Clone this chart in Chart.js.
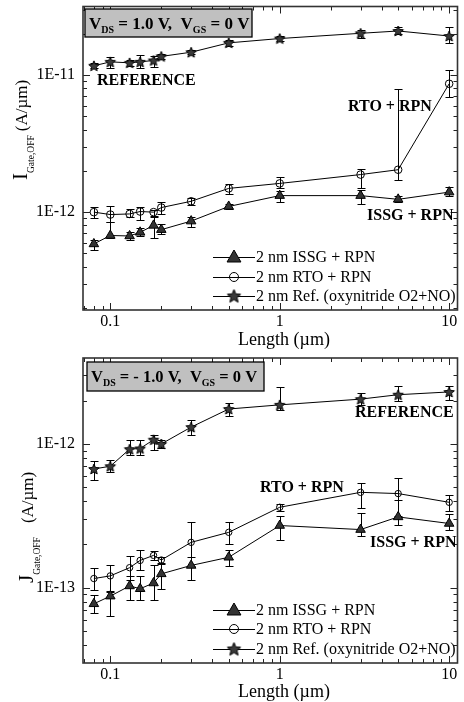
<!DOCTYPE html>
<html><head><meta charset="utf-8">
<script src="https://cdn.jsdelivr.net/npm/chart.js@4/dist/chart.umd.min.js"></script>
<style>
html,body{margin:0;padding:0;background:#fff;}
#wrap{position:relative;width:464px;height:702px;overflow:hidden;}
canvas{position:absolute;left:0;}
</style></head><body>
<div id="wrap">
<canvas id="topPanel" width="464" height="350" style="top:0"></canvas>
<canvas id="bottomPanel" width="464" height="352" style="top:350px"></canvas>
</div>
<script>
// Gate length (µm)
const lengths = [0.08, 0.1, 0.13, 0.15, 0.18, 0.2, 0.3, 0.5, 1, 3, 5, 10];

// I_Gate,OFF (A/µm) at V_DS = 1.0 V, V_GS = 0 V
const issgTop     = [5.86e-13, 6.75e-13, 6.7e-13, 7.12e-13, 8.0e-13, 7.45e-13, 8.6e-13, 1.1e-12, 1.32e-12, 1.32e-12, 1.24e-12, 1.40e-12];
const issgTopLow  = [5.33e-13, 6.5e-13, 6.23e-13, 6.67e-13, 6.52e-13, 6.97e-13, 7.78e-13, 1.05e-12, 1.18e-12, 1.14e-12, 1.18e-12, 1.32e-12];
const issgTopHigh = [6.3e-13, 8.5e-13, 7.16e-13, 7.61e-13, 9.2e-13, 8.24e-13, 9.2e-13, 1.15e-12, 1.42e-12, 1.44e-12, 1.32e-12, 1.52e-12];

const rtoTop     = [1.0e-12, 0.96e-12, 0.97e-12, 1.01e-12, 1.0e-12, 1.08e-12, 1.2e-12, 1.49e-12, 1.62e-12, 1.88e-12, 2.04e-12, 8.65e-12];
const rtoTopLow  = [0.90e-12, 0.85e-12, 0.915e-12, 0.87e-12, 0.935e-12, 0.97e-12, 1.12e-12, 1.36e-12, 1.50e-12, 1.50e-12, 1.73e-12, 6.96e-12];
const rtoTopHigh = [1.09e-12, 1.10e-12, 1.046e-12, 1.09e-12, 1.04e-12, 1.18e-12, 1.27e-12, 1.61e-12, 1.80e-12, 2.07e-12, 7.87e-12, 1.09e-11];

const refTop     = [1.17e-11, 1.25e-11, 1.23e-11, 1.25e-11, 1.28e-11, 1.37e-11, 1.47e-11, 1.72e-11, 1.85e-11, 2.02e-11, 2.1e-11, 1.93e-11];
const refTopLow  = [1.12e-11, 1.12e-11, 1.16e-11, 1.13e-11, 1.14e-11, 1.32e-11, 1.42e-11, 1.63e-11, 1.78e-11, 1.87e-11, 1.98e-11, 1.72e-11];
const refTopHigh = [1.23e-11, 1.35e-11, 1.30e-11, 1.41e-11, 1.37e-11, 1.42e-11, 1.53e-11, 1.80e-11, 1.93e-11, 2.15e-11, 2.25e-11, 2.23e-11];

// J_Gate,OFF (A/µm) at V_DS = -1.0 V, V_GS = 0 V
const issgBot     = [7.74e-14, 8.75e-14, 1.03e-13, 9.85e-14, 1.08e-13, 1.25e-13, 1.43e-13, 1.63e-13, 2.71e-13, 2.54e-13, 3.11e-13, 2.8e-13];
const issgBotLow  = [6.63e-14, 6.35e-14, 8.2e-14, 8.2e-14, 8.2e-14, 9.85e-14, 1.14e-13, 1.41e-13, 2.16e-13, 2.28e-13, 2.75e-13, 2.51e-13];
const issgBotHigh = [8.98e-14, 9.47e-14, 1.2e-13, 1.2e-13, 1.43e-13, 1.49e-13, 1.64e-13, 1.82e-13, 3.14e-13, 3.32e-13, 4.1e-13, 3.28e-13];

const rtoBot     = [1.16e-13, 1.21e-13, 1.38e-13, 1.55e-13, 1.68e-13, 1.56e-13, 2.07e-13, 2.43e-13, 3.63e-13, 4.61e-13, 4.52e-13, 3.93e-13];
const rtoBotLow  = [9.7e-14, 9.4e-14, 1.14e-13, 1.34e-13, 1.57e-13, 1.47e-13, 1.41e-13, 2.03e-13, 3.42e-13, 3.6e-13, 3.14e-13, 3.4e-13];
const rtoBotHigh = [1.37e-13, 1.45e-13, 1.66e-13, 1.82e-13, 1.815e-13, 1.64e-13, 2.86e-13, 2.86e-13, 3.85e-13, 5.36e-13, 5.8e-13, 4.45e-13];

const refBot     = [6.7e-13, 7.0e-13, 9.2e-13, 9.3e-13, 1.07e-12, 1.0e-12, 1.31e-12, 1.75e-12, 1.87e-12, 2.05e-12, 2.2e-12, 2.3e-12];
const refBotLow  = [5.65e-13, 6.4e-13, 8.43e-13, 8.43e-13, 9.13e-13, 9.38e-13, 1.16e-12, 1.56e-12, 1.73e-12, 1.88e-12, 1.98e-12, 2.03e-12];
const refBotHigh = [7.57e-13, 7.7e-13, 1.06e-12, 1.06e-12, 1.16e-12, 1.07e-12, 1.475e-12, 1.93e-12, 2.47e-12, 2.26e-12, 2.51e-12, 2.51e-12];

// Axis tick labels
const xTickValues = [0.1, 1, 10];
const xTickLabels = ['0.1', '1', '10'];
const yTopTickValues = [1e-12, 1e-11];
const yTopTickLabels = ['1E-12', '1E-11'];
const yBotTickValues = [1e-13, 1e-12];
const yBotTickLabels = ['1E-13', '1E-12'];

const seriesNames = ['2 nm ISSG + RPN', '2 nm RTO + RPN', '2 nm Ref. (oxynitride O2+NO)'];

const SERIF = "'Liberation Serif', 'DejaVu Serif', serif";

function makeStar(r, fill) {
  const size = Math.ceil(r * 2 + 3);
  const c = document.createElement('canvas');
  c.width = c.height = size;
  const g = c.getContext('2d');
  const cx = size / 2, cy = size / 2 + 0.5, ri = r * 0.45;
  g.beginPath();
  for (let i = 0; i < 10; i++) {
    const a = -Math.PI / 2 + i * Math.PI / 5;
    const rr = i % 2 ? ri : r;
    g.lineTo(cx + rr * Math.cos(a), cy + rr * Math.sin(a));
  }
  g.closePath();
  g.fillStyle = fill; g.fill();
  g.lineWidth = 1; g.strokeStyle = '#000'; g.stroke();
  return c;
}
const starSmall = makeStar(5.5, '#3a3a3a');
const starLegend = makeStar(7, '#3a3a3a');

function points(vals, lo, hi) {
  return lengths.map((x, i) => ({ x, y: vals[i], lo: lo[i], hi: hi[i] }));
}

const errorBars = {
  id: 'errorBars',
  beforeDatasetsDraw(chart) {
    const { ctx, scales: { x, y } } = chart;
    ctx.save();
    ctx.strokeStyle = '#000';
    ctx.lineWidth = 1;
    chart.data.datasets.forEach(ds => {
      ds.data.forEach(p => {
        const px = Math.round(x.getPixelForValue(p.x)) + 0.5;
        const y1 = Math.round(y.getPixelForValue(p.lo)) + 0.5;
        const y2 = Math.round(y.getPixelForValue(p.hi)) + 0.5;
        ctx.beginPath();
        ctx.moveTo(px, y1); ctx.lineTo(px, y2);
        ctx.moveTo(px - 4, y1); ctx.lineTo(px + 4, y1);
        ctx.moveTo(px - 4, y2); ctx.lineTo(px + 4, y2);
        ctx.stroke();
      });
    });
    ctx.restore();
  }
};

// Frame and inward log ticks on all four sides
const frame = {
  id: 'frame',
  afterDraw(chart) {
    const { ctx, chartArea: a, scales: { x, y } } = chart;
    ctx.save();
    ctx.strokeStyle = '#222';
    ctx.lineWidth = 1;
    const logTicks = (scale) => {
      const out = [];
      const e0 = Math.floor(Math.log10(scale.min)), e1 = Math.ceil(Math.log10(scale.max));
      for (let e = e0; e <= e1; e++) {
        for (let m = 1; m <= 9; m++) {
          const v = m * Math.pow(10, e);
          if (v > scale.min && v < scale.max) out.push({ v, major: m === 1 });
        }
      }
      return out;
    };
    ctx.beginPath();
    logTicks(x).forEach(t => {
      const px = Math.round(x.getPixelForValue(t.v)) + 0.5;
      const len = t.major ? 7 : 4;
      ctx.moveTo(px, a.bottom); ctx.lineTo(px, a.bottom - len);
      ctx.moveTo(px, a.top); ctx.lineTo(px, a.top + len);
    });
    logTicks(y).forEach(t => {
      const py = Math.round(y.getPixelForValue(t.v)) + 0.5;
      const len = t.major ? 7 : 4;
      ctx.moveTo(a.left, py); ctx.lineTo(a.left + len, py);
      ctx.moveTo(a.right, py); ctx.lineTo(a.right - len, py);
    });
    ctx.stroke();
    ctx.lineWidth = 1.6;
    ctx.strokeStyle = '#333';
    ctx.strokeRect(a.left, a.top, a.right - a.left, a.bottom - a.top);
    ctx.restore();
  }
};

// Text overlays: header box, labels, legend, axis titles
function makeDecor(opts) {
  return {
    id: 'decor',
    afterDraw(chart) {
      const ctx = chart.ctx;
      ctx.save();
      // header box
      const b = opts.box;
      ctx.fillStyle = '#c0c0c0';
      ctx.fillRect(b.x, b.y, b.w, b.h);
      ctx.lineWidth = 1.3;
      ctx.strokeStyle = '#000';
      ctx.strokeRect(b.x, b.y, b.w, b.h);
      ctx.fillStyle = '#000';
      ctx.textBaseline = 'alphabetic';
      ctx.textAlign = 'left';
      let cx = b.x + 4;
      const base = b.y + 20;
      b.parts.forEach(p => {
        ctx.font = p.sub ? "bold 10px " + SERIF : "bold " + b.size + "px " + SERIF;
        ctx.fillText(p.t, cx, p.sub ? base + 4 : base);
        cx += ctx.measureText(p.t).width;
      });
      // series labels
      ctx.font = "bold 16px " + SERIF;
      ctx.textBaseline = 'middle';
      opts.labels.forEach(l => ctx.fillText(l.t, l.x, l.y));
      // legend
      ctx.font = "16px " + SERIF;
      const styles = [
        { pointStyle: 'triangle', radius: 8, rotation: 0, borderWidth: 1, fill: '#333' },
        { pointStyle: 'circle', radius: 4.5, rotation: 0, borderWidth: 1, fill: 'rgba(0,0,0,0)' },
        { pointStyle: starLegend, radius: 7, rotation: 0, borderWidth: 1, fill: '#3a3a3a' }
      ];
      seriesNames.forEach((name, i) => {
        const yy = opts.legendY[i];
        ctx.strokeStyle = '#000'; ctx.lineWidth = 1;
        ctx.beginPath(); ctx.moveTo(213, yy + 0.5); ctx.lineTo(255, yy + 0.5); ctx.stroke();
        ctx.fillStyle = styles[i].fill;
        Chart.helpers.drawPoint(ctx, styles[i], 234, yy + (i === 0 ? 1 : 0));
        ctx.fillStyle = '#000';
        ctx.fillText(name, 256, yy + 1);
      });
      // x title
      ctx.font = "18px " + SERIF;
      ctx.textAlign = 'center';
      ctx.textBaseline = 'alphabetic';
      ctx.fillText('Length (\u00b5m)', 284, opts.xTitleY);
      // y title (rotated, with subscript)
      ctx.translate(opts.yTitle.x, opts.yTitle.bottom);
      ctx.rotate(-Math.PI / 2);
      ctx.textAlign = 'left';
      let u = 0;
      ctx.font = "21px " + SERIF;
      ctx.fillText(opts.yTitle.letter, u, 0);
      u += ctx.measureText(opts.yTitle.letter).width;
      ctx.font = "9.5px " + SERIF;
      ctx.fillText('Gate,OFF', u, 7);
      u += ctx.measureText('Gate,OFF').width + opts.yTitle.gap;
      ctx.font = "17px " + SERIF;
      ctx.fillText('(A/\u00b5m)', u, 0);
      ctx.restore();
    }
  };
}

function makePanel(canvas, cfg) {
  const H = canvas.height;
  return new Chart(canvas, {
    type: 'line',
    data: {
      datasets: [
        {
          label: seriesNames[0], data: points(cfg.issg, cfg.issgLow, cfg.issgHigh),
          borderColor: '#000', borderWidth: 1, pointStyle: 'triangle', pointRadius: 5.5,
          pointBackgroundColor: '#333', pointBorderColor: '#000', pointBorderWidth: 1
        },
        {
          label: seriesNames[1], data: points(cfg.rto, cfg.rtoLow, cfg.rtoHigh),
          borderColor: '#000', borderWidth: 1, pointStyle: 'circle', pointRadius: cfg.circleR,
          pointBackgroundColor: 'rgba(0,0,0,0)', pointBorderColor: '#000', pointBorderWidth: 1
        },
        {
          label: seriesNames[2], data: points(cfg.ref, cfg.refLow, cfg.refHigh),
          borderColor: '#000', borderWidth: 1, pointStyle: starSmall, pointRadius: 5.5,
          pointBackgroundColor: '#3a3a3a', pointBorderColor: '#000', pointBorderWidth: 1
        }
      ]
    },
    options: {
      responsive: false,
      animation: false,
      events: [],
      layout: { padding: { left: 0, right: 6, top: cfg.padTop, bottom: 0 } },
      plugins: { legend: { display: false }, tooltip: { enabled: false } },
      scales: {
        x: {
          type: 'logarithmic', min: 0.069, max: 11.2,
          grid: { display: false, drawTicks: false }, border: { display: false },
          ticks: {
            color: '#000', font: { family: SERIF, size: 16 }, padding: 2, maxRotation: 0, autoSkip: false,
            callback: (v) => { const i = xTickValues.indexOf(v); return i >= 0 ? xTickLabels[i] : ''; }
          },
          afterBuildTicks: s => { s.ticks = xTickValues.map(v => ({ value: v })); },
          afterFit: s => { s.height = H - cfg.plotBottom; s.paddingLeft = 0; s.paddingRight = 0; }
        },
        y: {
          type: 'logarithmic', min: cfg.yMin, max: cfg.yMax,
          grid: { display: false, drawTicks: false }, border: { display: false },
          ticks: {
            color: '#000', font: { family: SERIF, size: 16 }, padding: 8, autoSkip: false,
            callback: (v) => { const i = cfg.yTicks.findIndex(t => Math.abs(t - v) / t < 1e-6); return i >= 0 ? cfg.yLabels[i] : ''; }
          },
          afterBuildTicks: s => { s.ticks = cfg.yTicks.map(v => ({ value: v })); },
          afterFit: s => { s.width = 83; s.paddingTop = 0; s.paddingBottom = 0; }
        }
      }
    },
    plugins: [errorBars, frame, makeDecor(cfg.decor)]
  });
}

makePanel(document.getElementById('topPanel'), {
  issg: issgTop, issgLow: issgTopLow, issgHigh: issgTopHigh,
  rto: rtoTop, rtoLow: rtoTopLow, rtoHigh: rtoTopHigh,
  ref: refTop, refLow: refTopLow, refHigh: refTopHigh,
  yMin: 1.93e-13, yMax: 3.17e-11, yTicks: yTopTickValues, yLabels: yTopTickLabels,
  padTop: 5, plotBottom: 310, circleR: 3.8,
  decor: {
    box: { x: 85, y: 9, w: 167, h: 28, size: 17, parts: [
      { t: 'V' }, { t: 'DS', sub: true }, { t: ' = 1.0 V,  V' }, { t: 'GS', sub: true }, { t: ' = 0 V' }] },
    labels: [
      { t: 'REFERENCE', x: 97, y: 81 },
      { t: 'RTO + RPN', x: 348, y: 107 },
      { t: 'ISSG + RPN', x: 367, y: 216 }
    ],
    legendY: [257, 277, 296],
    xTitleY: 345,
    yTitle: { x: 27, bottom: 180, letter: 'I', gap: 4 }
  }
});

makePanel(document.getElementById('bottomPanel'), {
  issg: issgBot, issgLow: issgBotLow, issgHigh: issgBotHigh,
  rto: rtoBot, rtoLow: rtoBotLow, rtoHigh: rtoBotHigh,
  ref: refBot, refLow: refBotLow, refHigh: refBotHigh,
  yMin: 3.0e-14, yMax: 3.96e-12, yTicks: yBotTickValues, yLabels: yBotTickLabels,
  padTop: 8, plotBottom: 313, circleR: 3.2,
  decor: {
    box: { x: 87, y: 12, w: 177, h: 29, size: 16.5, parts: [
      { t: 'V' }, { t: 'DS', sub: true }, { t: ' = - 1.0 V,  V' }, { t: 'GS', sub: true }, { t: ' = 0 V' }] },
    labels: [
      { t: 'REFERENCE', x: 355, y: 63 },
      { t: 'RTO + RPN', x: 260, y: 138 },
      { t: 'ISSG + RPN', x: 370, y: 193 }
    ],
    legendY: [260, 279, 299],
    xTitleY: 347,
    yTitle: { x: 33, bottom: 233, letter: 'J', gap: 14 }
  }
});
</script>
</body></html>
